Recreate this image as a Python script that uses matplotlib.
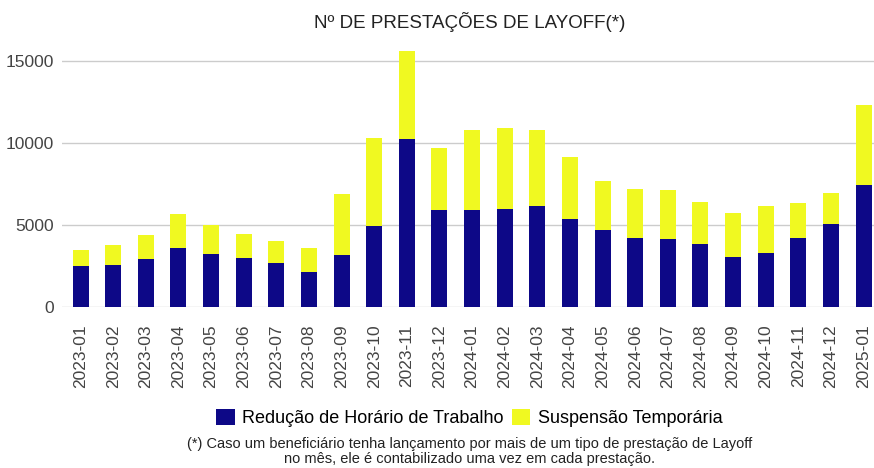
import matplotlib.pyplot as plt
import numpy as np

plt.rcParams['font.family'] = ['Liberation Sans', 'DejaVu Sans']

months = ["2023-01", "2023-02", "2023-03", "2023-04", "2023-05", "2023-06",
          "2023-07", "2023-08", "2023-09", "2023-10", "2023-11", "2023-12",
          "2024-01", "2024-02", "2024-03", "2024-04", "2024-05", "2024-06",
          "2024-07", "2024-08", "2024-09", "2024-10", "2024-11", "2024-12",
          "2025-01"]
reducao = [2490, 2530, 2940, 3610, 3225, 2980, 2690, 2125, 3165, 4920,
           10245, 5920, 5900, 5980, 6180, 5350, 4695, 4185, 4145, 3820,
           3040, 3270, 4185, 5060, 7450]
total = [3470, 3760, 4390, 5670, 5000, 4430, 4020, 3590, 6880, 10305,
         15630, 9695, 10815, 10935, 10770, 9160, 7675, 7205, 7160, 6425,
         5715, 6180, 6345, 6960, 12345]
suspensao = [t - r for t, r in zip(total, reducao)]

blue = "#0d0887"
yellow = "#f0f921"

fig = plt.figure(figsize=(8.74, 4.68), dpi=100)
ax = fig.add_axes([0.0709, 0.3447, 0.9291, 0.5593])

x = np.arange(len(months))
ax.bar(x, reducao, width=0.49, color=blue, label="Redução de Horário de Trabalho", zorder=3)
ax.bar(x, suspensao, width=0.49, bottom=reducao, color=yellow,
       label="Suspensão Temporária", zorder=3)

ax.set_xlim(-0.57, 24.32)
ax.set_ylim(0, 16000)
ax.set_yticks([0, 5000, 10000, 15000])
ax.set_xticks(x)
ax.set_xticklabels(months, rotation=90)
ax.tick_params(axis="both", length=0, labelsize=12.5, labelcolor="#444444")
ax.tick_params(axis="y", pad=6)
ax.tick_params(axis="x", pad=12.5)
ax.grid(axis="y", color="#cccccc", linewidth=1, zorder=0)
for s in ax.spines.values():
    s.set_visible(False)

fig.text(0.537, 0.953, "Nº DE PRESTAÇÕES DE LAYOFF(*)", ha="center", va="center",
         fontsize=13.5, color="#222222")

fig.legend(loc="center", bbox_to_anchor=(0.537, 0.107), ncol=2, frameon=False,
           fontsize=13, handlelength=1.0, handleheight=1.0, handletextpad=0.4,
           columnspacing=0.5)

fig.text(0.537, 0.035, "(*) Caso um beneficiário tenha lançamento por mais de um tipo de prestação de Layoff\n"
         "no mês, ele é contabilizado uma vez em cada prestação.",
         ha="center", va="center", fontsize=10.5, color="#222222", linespacing=1.1)

fig.savefig("out.png", dpi=100)
